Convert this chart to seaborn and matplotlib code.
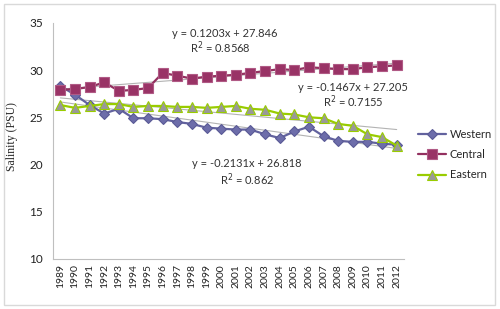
import numpy as np
import pandas as pd
import matplotlib
matplotlib.use("Agg")
import matplotlib.pyplot as plt
from matplotlib.patches import Rectangle
from matplotlib.lines import Line2D
import seaborn as sns

years = [str(y) for y in range(1989, 2013)]
western = [28.3, 27.4, 26.3, 25.4, 25.9, 24.9, 24.9, 24.8, 24.5, 24.3, 23.9, 23.8,
           23.7, 23.7, 23.2, 22.8, 23.5, 24.0, 23.0, 22.5, 22.4, 22.4, 22.2, 22.1]
central = [27.9, 28.0, 28.2, 28.7, 27.8, 27.9, 28.1, 29.7, 29.4, 29.1, 29.3, 29.4,
           29.5, 29.7, 29.9, 30.1, 30.0, 30.3, 30.2, 30.1, 30.1, 30.3, 30.4, 30.5]
eastern = [26.3, 26.0, 26.2, 26.4, 26.4, 26.1, 26.2, 26.2, 26.1, 26.1, 26.0, 26.1,
           26.2, 25.9, 25.8, 25.4, 25.3, 25.0, 24.9, 24.3, 24.1, 23.2, 22.9, 22.0]
series_names = ["Western", "Central", "Eastern"]
equations = ["y = -0.2131x + 26.818", "y = 0.1203x + 27.846", "y = -0.1467x + 27.205"]
r_squared = ["R$^{2}$ = 0.862", "R$^{2}$ = 0.8568", "R$^{2}$ = 0.7155"]

sns.set_style("white")
plt.rcParams['font.family'] = ['Lato', 'DejaVu Sans']

x = np.arange(len(years))
df = pd.DataFrame({"x": x, "Western": western, "Central": central, "Eastern": eastern})

fig = plt.figure(figsize=(5, 3.09), dpi=100)
fig.patches.append(Rectangle((0.008, 0.013), 0.982, 0.974, transform=fig.transFigure,
                             fill=False, edgecolor="#D9D9D9", linewidth=1))
ax = fig.add_axes([0.106, 0.162, 0.702, 0.764])

styles = {
    "Western": dict(color="#62629E", marker="D", ms=5.5, mfc="#6D6DAA", mec="#5A5A96"),
    "Central": dict(color="#93305F", marker="s", ms=6.5, mfc="#993366", mec="#B05A85"),
    "Eastern": dict(color="#99CC00", marker="^", ms=7.5, mfc="#999999", mec="#99CC00"),
}

# trend lines
for name in series_names:
    sns.regplot(x="x", y=name, data=df, ax=ax, scatter=False, ci=None, truncate=True,
                line_kws=dict(color="#B3B3B3", lw=0.8, zorder=1))

for name in series_names:
    st = styles[name]
    sns.lineplot(x="x", y=name, data=df, ax=ax, color=st["color"], lw=1.6,
                 marker=st["marker"], markersize=st["ms"], markerfacecolor=st["mfc"],
                 markeredgecolor=st["mec"], markeredgewidth=0.8, zorder=3)

ax.set_xlim(-0.5, len(years) - 0.5)
ax.set_ylim(10, 35)
ax.set_yticks([10, 15, 20, 25, 30, 35])
ax.set_xticks(x)
ax.set_xticklabels(years, rotation=90, fontsize=7.5, color="#222222")
ax.set_xticks(np.arange(-0.5, len(years)), minor=True)
ax.tick_params(axis="x", which="major", length=0, pad=4)
ax.tick_params(axis="x", which="minor", length=4, color="#BFBFBF", width=0.8)
ax.tick_params(axis="y", length=4, color="#BFBFBF", width=0.8, labelsize=8.5,
               labelcolor="#222222", pad=3)
ax.set_xlabel("")
ax.set_ylabel("Salinity (PSU)", family=["Liberation Serif"], fontsize=8.5)
ax.yaxis.set_label_coords(-0.1, 0.517)
for side in ["top", "right"]:
    ax.spines[side].set_visible(False)
for side in ["left", "bottom"]:
    ax.spines[side].set_color("#BFBFBF")
    ax.spines[side].set_linewidth(0.8)

# equation labels
fs = 8
kw = dict(ha="center", va="center", fontsize=fs, color="#333333")
fig.text(0.45, 0.893, equations[1], **kw)
fig.text(0.44, 0.845, r_squared[1], **kw)
fig.text(0.705, 0.718, equations[2], **kw)
fig.text(0.706, 0.67, r_squared[2], **kw)
fig.text(0.494, 0.472, equations[0], **kw)
fig.text(0.494, 0.42, r_squared[0], **kw)

handles = []
for name in series_names:
    st = styles[name]
    handles.append(Line2D([], [], color=st["color"], lw=1.6, marker=st["marker"],
                          markersize=st["ms"], markerfacecolor=st["mfc"],
                          markeredgecolor=st["mec"], markeredgewidth=0.8))
fig.legend(handles, series_names, loc="center left", bbox_to_anchor=(0.815, 0.5),
           frameon=False, fontsize=8, handlelength=2.6, labelspacing=0.85, handletextpad=0.3)

fig.savefig("out.png", dpi=100)
